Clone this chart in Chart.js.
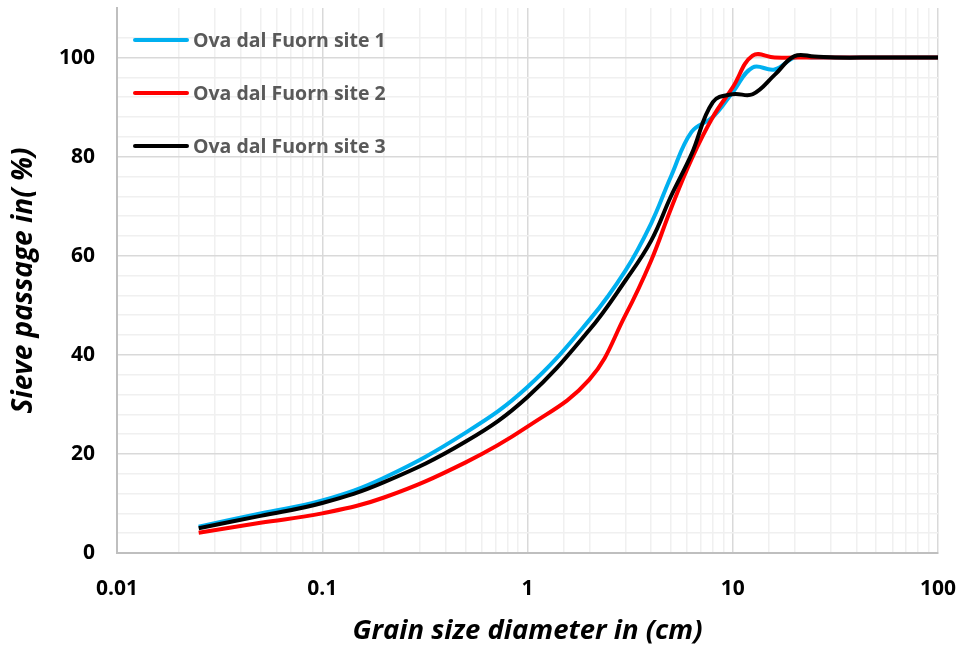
<!DOCTYPE html>
<html>
<head>
<meta charset="utf-8">
<script src="https://cdn.jsdelivr.net/npm/chart.js@4.4.0/dist/chart.umd.min.js"></script>
<style>
  body { margin: 0; background: #fff; }
  #wrap { width: 965px; height: 650px; }
</style>
</head>
<body>
<div id="wrap"><canvas id="lineChart"></canvas></div>
<script>
// grain size (cm) and sieve passage (%)
var sizes = [0.025, 0.05, 0.1, 0.2, 0.5, 1, 2, 3, 4, 5, 6.3, 8, 10, 12.5, 16, 20, 25, 31.5, 50, 100];
var site1 = [5.3, 8.0, 10.6, 15.2, 24.3, 33.5, 47, 57, 66.5, 76, 85, 88, 93, 98, 97.6, 100, 100, 100, 100, 100];
var site2 = [4.1, 6.1, 8.0, 11.2, 18.3, 25.5, 35, 48, 59, 69.5, 79.5, 88, 94, 100.4, 100, 100, 100, 100, 100, 100];
var site3 = [5.0, 7.5, 10.1, 14.3, 22.5, 31.5, 45, 55, 63, 72, 80.5, 91, 92.6, 92.6, 96.5, 100.3, 100.2, 100, 100, 100];
var labels = ["Ova dal Fuorn site 1", "Ova dal Fuorn site 2", "Ova dal Fuorn site 3"];
var xTicks = [0.01, 0.1, 1, 10, 100];
var yTicks = [0, 20, 40, 60, 80, 100];

function points(vals) {
  return sizes.map(function (s, i) { return { x: s, y: vals[i] }; });
}

function isDecade(v) {
  return xTicks.some(function (t) { return Math.abs(t - v) < t * 1e-6; });
}

// legend drawn inside the plot, top left like the excel one
var insideLegend = {
  id: 'insideLegend',
  afterDatasetsDraw: function (chart) {
    var ctx = chart.ctx;
    var area = chart.chartArea;
    ctx.save();
    ctx.font = 'bold 19.5px "Open Sans"';
    ctx.textBaseline = 'middle';
    chart.data.datasets.forEach(function (ds, i) {
      var y = area.top + 32 + i * 53;
      ctx.strokeStyle = ds.borderColor;
      ctx.lineWidth = 4;
      ctx.lineCap = 'round';
      ctx.beginPath();
      ctx.moveTo(area.left + 18, y);
      ctx.lineTo(area.left + 70, y);
      ctx.stroke();
      ctx.fillStyle = '#595959';
      ctx.fillText(ds.label, area.left + 76, y + 1);
    });
    ctx.restore();
  }
};

Chart.defaults.font.family = '"Open Sans", sans-serif';
Chart.defaults.color = '#000';

var ctxL = document.getElementById("lineChart").getContext('2d');
var myLineChart = new Chart(ctxL, {
  type: 'line',
  data: {
    datasets: [{
        label: labels[0],
        data: points(site1),
        borderColor: '#00b0f0',
        borderWidth: 4,
        order: 2
      },
      {
        label: labels[1],
        data: points(site2),
        borderColor: '#ff0000',
        borderWidth: 4,
        order: 1
      },
      {
        label: labels[2],
        data: points(site3),
        borderColor: '#000000',
        borderWidth: 4,
        order: 0
      }
    ]
  },
  options: {
    responsive: true,
    maintainAspectRatio: false,
    animation: false,
    layout: { padding: { top: 8, right: 27, left: 0, bottom: 0 } },
    elements: {
      point: { radius: 0 },
      line: { tension: 0.4, fill: false }
    },
    plugins: {
      legend: { display: false },
      tooltip: { enabled: false }
    },
    scales: {
      x: {
        type: 'logarithmic',
        min: 0.01,
        max: 100,
        afterFit: function (s) { s.height = 97; s.paddingLeft = 0; s.paddingRight = 0; },
        border: { color: '#bfbfbf', width: 2 },
        grid: {
          drawTicks: false,
          lineWidth: 1.5,
          color: function (c) { return isDecade(c.tick.value) ? '#d9d9d9' : '#f0f0f0'; }
        },
        ticks: {
          autoSkip: false,
          maxRotation: 0,
          padding: 23,
          font: { size: 21, weight: 'bold' },
          callback: function (v) { return isDecade(v) ? String(v) : ''; }
        },
        title: {
          display: true,
          text: 'Grain size diameter in (cm)',
          font: { size: 27.5, weight: 'bold', style: 'italic' },
          padding: { top: 0, bottom: 2 }
        }
      },
      y: {
        min: 0,
        max: 110,
        afterFit: function (s) { s.width = 117; s.paddingTop = 0; s.paddingBottom = 0; },
        border: { color: '#bfbfbf', width: 2 },
        grid: {
          drawTicks: false,
          lineWidth: 1.5,
          color: function (c) {
            var v = c.tick.value;
            if (v > 108) return 'rgba(0,0,0,0)';
            return yTicks.indexOf(v) >= 0 ? '#d9d9d9' : '#f0f0f0';
          }
        },
        ticks: {
          stepSize: 4,
          autoSkip: false,
          padding: 22,
          font: { size: 21, weight: 'bold' },
          callback: function (v) { return yTicks.indexOf(v) >= 0 ? String(v) : ''; }
        },
        title: {
          display: true,
          text: 'Sieve passage in( %)',
          font: { size: 28, weight: 'bold', style: 'italic' },
          padding: { top: 7, bottom: 7 }
        }
      }
    }
  },
  plugins: [insideLegend]
});
</script>
</body>
</html>
